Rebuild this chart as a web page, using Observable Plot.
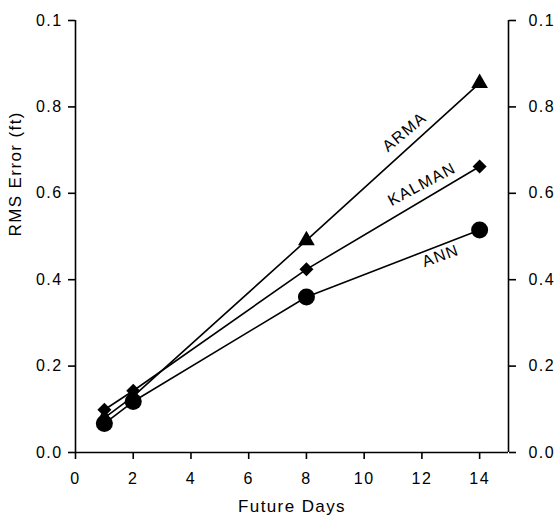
<!DOCTYPE html>
<html>
<head>
<meta charset="utf-8">
<script src="https://cdn.jsdelivr.net/npm/d3@7"></script>
<script src="https://cdn.jsdelivr.net/npm/@observablehq/plot@0.6"></script>
<style>
  html, body { margin: 0; padding: 0; background: #fff; }
  svg { display: block; }
</style>
</head>
<body>
<div id="chart"></div>
<script>
const days = [1, 2, 8, 14];
const arma = [0.080, 0.130, 0.491, 0.855];
const kalman = [0.099, 0.143, 0.424, 0.662];
const ann = [0.067, 0.118, 0.360, 0.515];

const xTicks = [0, 2, 4, 6, 8, 10, 12, 14];
const yTicks = [0, 0.2, 0.4, 0.6, 0.8, 1.0];
const yTickLabels = ["0.0", "0.2", "0.4", "0.6", "0.8", "0.1"];

const labelNames = ["ARMA", "KALMAN", "ANN"];
const labelX = [11.4, 12.0, 12.65];
const labelY = [0.742, 0.621, 0.455];
const labelAngle = [-40, -28, -20];

const xTitle = "Future Days";
const yTitle = "RMS Error (ft)";

const toRows = (vals) => days.map((d, i) => ({day: d, value: vals[i]}));
const armaRows = toRows(arma);
const kalmanRows = toRows(kalman);
const annRows = toRows(ann);
const labels = labelNames.map((n, i) => ({name: n, x: labelX[i], y: labelY[i], a: labelAngle[i]}));

const font = "Liberation Sans, Arial, Helvetica, sans-serif";
const sw = 1.6;
const fs = 16;

const chart = Plot.plot({
  width: 555,
  height: 522,
  marginLeft: 75,
  marginRight: 47,
  marginTop: 20,
  marginBottom: 70,
  style: {fontFamily: font, fontSize: fs + "px", color: "black", background: "white", letterSpacing: "1.4px"},
  x: {domain: [0, 15]},
  y: {domain: [0, 1]},
  marks: [
    Plot.axisX({ticks: xTicks, tickSize: 7, tickPadding: 13, label: null, tickFormat: d => String(d), fontSize: fs, strokeWidth: sw}),
    Plot.axisY({anchor: "left", ticks: yTicks, tickSize: 7, tickPadding: 6, label: null,
      tickFormat: d => yTickLabels[Math.round(d * 5)], fontSize: fs, strokeWidth: sw}),
    Plot.axisY({anchor: "right", ticks: yTicks, tickSize: 7, tickPadding: 13, label: null,
      tickFormat: d => yTickLabels[Math.round(d * 5)], fontSize: fs, strokeWidth: sw}),
    Plot.ruleX([0], {stroke: "black", strokeWidth: sw}),
    Plot.ruleX([15], {stroke: "black", strokeWidth: sw}),
    Plot.ruleY([0], {stroke: "black", strokeWidth: sw}),
    Plot.line(armaRows, {x: "day", y: "value", stroke: "black", strokeWidth: sw}),
    Plot.line(kalmanRows, {x: "day", y: "value", stroke: "black", strokeWidth: sw}),
    Plot.line(annRows, {x: "day", y: "value", stroke: "black", strokeWidth: sw}),
    Plot.dot(armaRows, {x: "day", y: "value", symbol: "triangle", r: 6.2, fill: "black", stroke: "none"}),
    Plot.dot(kalmanRows, {x: "day", y: "value", symbol: "diamond2", r: 6.3, fill: "black", stroke: "none"}),
    Plot.dot(annRows, {x: "day", y: "value", symbol: "circle", r: 8.5, fill: "black", stroke: "none"}),
    Plot.text(labels, {x: "x", y: "y", text: "name", rotate: "a", fontSize: fs, fill: "black"}),
    Plot.text([xTitle], {frameAnchor: "bottom", dy: 59, text: d => d, fontSize: 17, fill: "black"}),
    Plot.text([yTitle], {frameAnchor: "left", dx: -60, rotate: -90, text: d => d, fontSize: 17, fill: "black"})
  ]
});
document.getElementById("chart").appendChild(chart);
</script>
</body>
</html>
